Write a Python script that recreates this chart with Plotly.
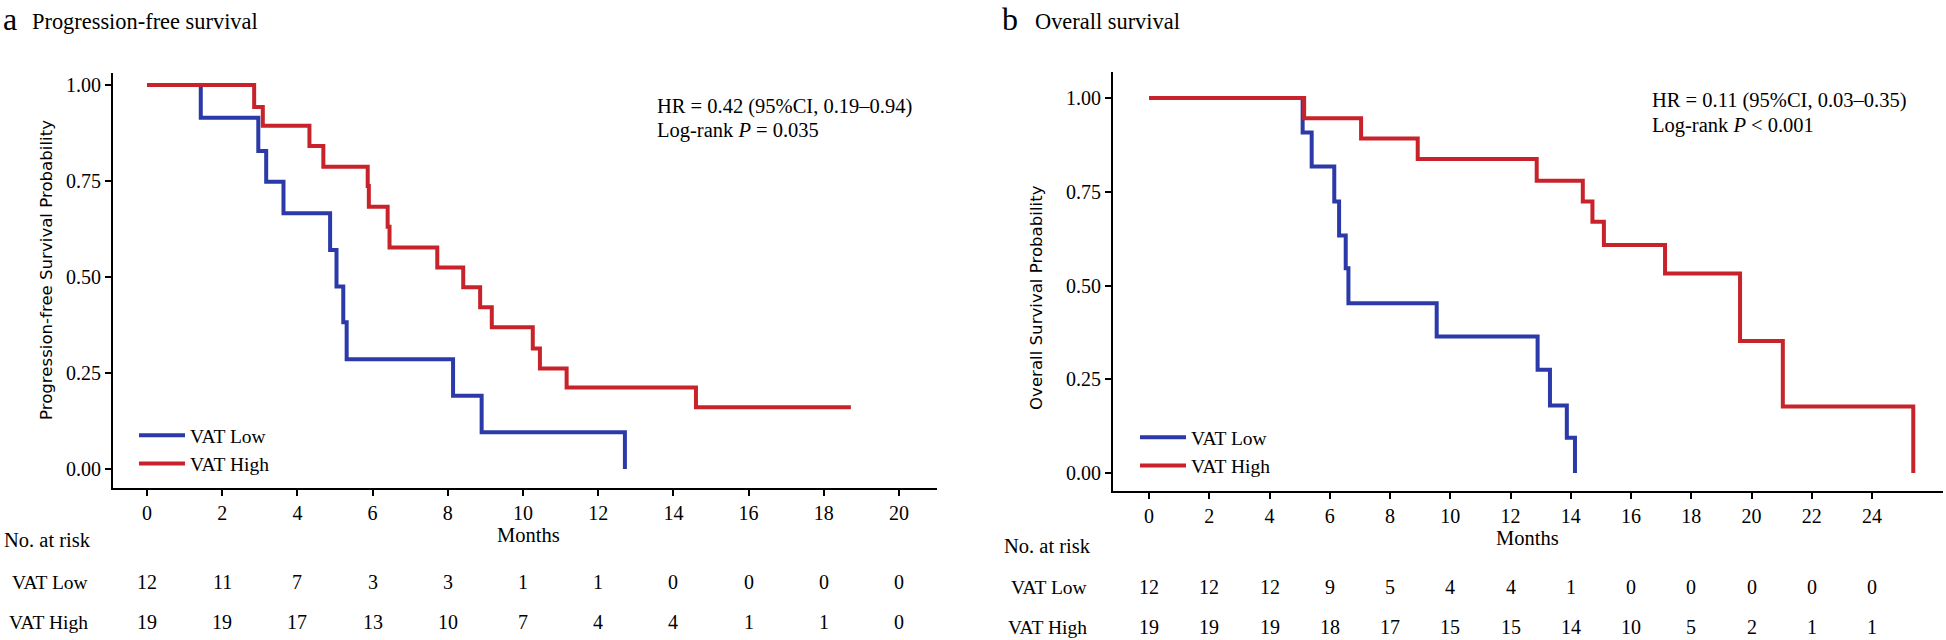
import plotly.graph_objects as go

W, H = 1946, 640
SERIF = "Liberation Serif"
SANS = "DejaVu Sans"
BLUE = "#2B3AA8"
RED = "#C8232B"

# ---------------- data ----------------
# Panel a: progression-free survival (Kaplan-Meier steps)
pfs_low_t = [0, 1.43, 2.96, 3.17, 3.63, 4.87, 5.04, 5.22, 5.31, 8.14, 8.90, 12.71]
pfs_low_s = [1.0, 0.915, 0.828, 0.748, 0.666, 0.570, 0.475, 0.382, 0.286, 0.191, 0.0955, 0.0]
pfs_high_t = [0, 2.85, 3.08, 4.32, 4.69, 5.87, 5.90, 6.40, 6.45, 7.72, 8.41, 8.86, 9.17,
              10.26, 10.45, 11.16, 14.60, 18.72]
pfs_high_s = [1.0, 0.943, 0.894, 0.841, 0.787, 0.737, 0.683, 0.631, 0.577, 0.525, 0.473,
              0.421, 0.369, 0.314, 0.262, 0.212, 0.161, 0.161]

# Panel b: overall survival
os_low_t = [0, 5.10, 5.40, 6.15, 6.31, 6.53, 6.62, 9.55, 12.90, 13.31, 13.87, 14.14]
os_low_s = [1.0, 0.908, 0.817, 0.724, 0.633, 0.546, 0.4525, 0.364, 0.275, 0.180, 0.094, 0.0]
os_high_t = [0, 5.15, 7.04, 8.92, 12.87, 14.40, 14.72, 15.10, 17.13, 19.62, 21.04, 25.37]
os_high_s = [1.0, 0.946, 0.892, 0.837, 0.779, 0.724, 0.670, 0.608, 0.532, 0.352, 0.177, 0.0]

# Number at risk tables
pfs_ticks = [0, 2, 4, 6, 8, 10, 12, 14, 16, 18, 20]
pfs_risk_low = [12, 11, 7, 3, 3, 1, 1, 0, 0, 0, 0]
pfs_risk_high = [19, 19, 17, 13, 10, 7, 4, 4, 1, 1, 0]
os_ticks = [0, 2, 4, 6, 8, 10, 12, 14, 16, 18, 20, 22, 24]
os_risk_low = [12, 12, 12, 9, 5, 4, 4, 1, 0, 0, 0, 0, 0]
os_risk_high = [19, 19, 19, 18, 17, 15, 15, 14, 10, 5, 2, 1, 1]

y_ticks = [0.0, 0.25, 0.5, 0.75, 1.0]
y_ticktext = ["0.00", "0.25", "0.50", "0.75", "1.00"]
group_names = ["VAT Low", "VAT High"]

# ---------------- figure ----------------
fig = go.Figure()

def add_curve(t, s, name, color, xa, ya, leg):
    fig.add_trace(go.Scatter(
        x=t, y=s, mode="lines", name=name, line=dict(color=color, width=4, shape="hv"),
        xaxis=xa, yaxis=ya, legend=leg, legendgroup=leg + name, hoverinfo="skip"))

add_curve(pfs_low_t, pfs_low_s, group_names[0], BLUE, "x", "y", "legend")
add_curve(pfs_high_t, pfs_high_s, group_names[1], RED, "x", "y", "legend")
add_curve(os_low_t, os_low_s, group_names[0], BLUE, "x2", "y2", "legend2")
add_curve(os_high_t, os_high_s, group_names[1], RED, "x2", "y2", "legend2")

def px_x(p):
    return p / W

def px_y(p):
    return 1 - p / H

axis_common = dict(showline=True, linecolor="black", linewidth=2, ticks="outside",
                   ticklen=6, tickwidth=2, tickcolor="black", showgrid=False, zeroline=False,
                   tickfont=dict(family=SERIF, size=20, color="black"))

fig.update_layout(
    width=W, height=H, margin=dict(l=0, r=0, t=0, b=0),
    paper_bgcolor="white", plot_bgcolor="white",
    font=dict(family=SERIF, color="black", size=20),
    xaxis=dict(domain=[px_x(113), px_x(937)], range=[(113 - 147) / 37.6, (937 - 147) / 37.6],
               tickvals=pfs_ticks, anchor="y", **axis_common),
    yaxis=dict(domain=[px_y(488), px_y(73)], range=[(469 - 488) / 384, (469 - 73) / 384],
               tickvals=y_ticks, ticktext=y_ticktext, anchor="x", **axis_common),
    xaxis2=dict(domain=[px_x(1113), px_x(1943)], range=[(1113 - 1149) / 30.125, (1943 - 1149) / 30.125],
                tickvals=os_ticks, anchor="y2", **axis_common),
    yaxis2=dict(domain=[px_y(491), px_y(72)], range=[(473 - 491) / 375, (473 - 72) / 375],
                tickvals=y_ticks, ticktext=y_ticktext, anchor="x2", **axis_common),
    legend=dict(x=px_x(134), y=px_y(416), xanchor="left", yanchor="top",
                font=dict(family=SERIF, size=19.5, color="black"), bgcolor="rgba(0,0,0,0)",
                tracegroupgap=0, itemwidth=46),
    legend2=dict(x=px_x(1135), y=px_y(418), xanchor="left", yanchor="top",
                 font=dict(family=SERIF, size=19.5, color="black"), bgcolor="rgba(0,0,0,0)",
                 tracegroupgap=0, itemwidth=46),
)

ann = []

def text(x, y, s, size, xanchor="left", family=SERIF, xref="paper", angle=0):
    ann.append(dict(x=x, y=y, xref=xref, yref="paper", text=s, showarrow=False,
                    xanchor=xanchor, yanchor="middle", textangle=angle,
                    font=dict(family=family, size=size, color="black")))

# panel titles
text(px_x(1), px_y(19), "a", 32)
text(px_x(30), px_y(21), "Progression-free survival", 22.4)
text(px_x(1000), px_y(19), "b", 32)
text(px_x(1033), px_y(21), "Overall survival", 22.4)

# statistics
text(px_x(655), px_y(106), "HR = 0.42 (95%CI, 0.19\u20130.94)", 20.5)
text(px_x(655), px_y(130), "Log-rank <i>P</i> = 0.035", 20.5)
text(px_x(1650), px_y(100), "HR = 0.11 (95%CI, 0.03\u20130.35)", 20.5)
text(px_x(1650), px_y(125), "Log-rank <i>P</i> &lt; 0.001", 20.5)

# y-axis titles
text(px_x(46), px_y(270), "Progression-free Survival Probability", 16.6, xanchor="center",
     family=SANS, angle=-90)
text(px_x(1036), px_y(298), "Overall Survival Probability", 16.6, xanchor="center",
     family=SANS, angle=-90)

# x-axis titles
text(px_x(528), px_y(535), "Months", 20.5, xanchor="center")
text(px_x(1527), px_y(538), "Months", 20.5, xanchor="center")

# risk tables
text(px_x(2), px_y(540), "No. at risk", 20.5)
text(px_x(1002), px_y(546), "No. at risk", 20.5)
text(px_x(90), px_y(582), group_names[0], 19.5, xanchor="right")
text(px_x(90), px_y(622), group_names[1], 19.5, xanchor="right")
text(px_x(1089), px_y(587), group_names[0], 19.5, xanchor="right")
text(px_x(1089), px_y(627), group_names[1], 19.5, xanchor="right")

for t, lo, hi in zip(pfs_ticks, pfs_risk_low, pfs_risk_high):
    text(t, px_y(582), str(lo), 20, xanchor="center", xref="x")
    text(t, px_y(622), str(hi), 20, xanchor="center", xref="x")
for t, lo, hi in zip(os_ticks, os_risk_low, os_risk_high):
    text(t, px_y(587), str(lo), 20, xanchor="center", xref="x2")
    text(t, px_y(627), str(hi), 20, xanchor="center", xref="x2")

fig.update_layout(annotations=ann)
fig.write_html("out.html", config={"displayModeBar": False},
               post_script="document.body.style.margin='0';document.body.style.overflow='hidden';")
